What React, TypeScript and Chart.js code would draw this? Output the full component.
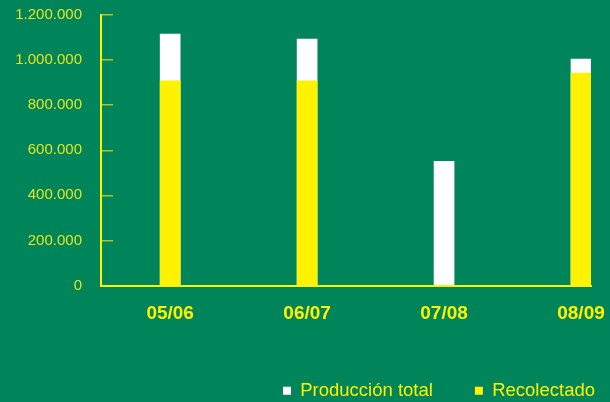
import React, { useEffect, useRef } from 'react';
import { Chart, registerables } from 'chart.js';

Chart.register(...registerables);

const categories = ['05/06', '06/07', '07/08', '08/09'];
const seriesNames = ['Producción total', 'Recolectado'];
const produccionTotal = [1115000, 1093000, 551000, 1004000];
const recolectado = [908000, 908000, 0, 942000];
const yTickValues = [0, 200000, 400000, 600000, 800000, 1000000, 1200000];

const GREEN = '#00845a';
const YELLOW = '#fff200';
const YLABEL = '#e6e41c';
const TICK = '#a9c62e';
const FONT = '"Liberation Sans", Arial, Helvetica, sans-serif';

const fmt = (v: number) => String(v).replace(/\B(?=(\d{3})+(?!\d))/g, '.');

export default function App() {
  const ref = useRef<HTMLCanvasElement>(null);

  useEffect(() => {
    document.documentElement.style.margin = '0';
    document.body.style.margin = '0';
    document.body.style.background = GREEN;
    document.body.style.overflow = 'hidden';

    const chart = new Chart(ref.current as HTMLCanvasElement, {
      type: 'bar',
      data: {
        datasets: [
          {
            label: seriesNames[0],
            data: produccionTotal.map((v, i) => ({ x: i, y: v })),
            backgroundColor: '#ffffff',
            borderWidth: 0,
            order: 2,
            grouped: false,
            barThickness: 20,
          } as any,
          {
            label: seriesNames[1],
            data: recolectado.map((v, i) => ({ x: i, y: v })),
            backgroundColor: YELLOW,
            borderWidth: 0,
            order: 1,
            grouped: false,
            barThickness: 20,
          } as any,
        ],
      },
      options: {
        responsive: false,
        animation: false,
        devicePixelRatio: 1,
        layout: { padding: { left: 13, right: -27, top: 15, bottom: -8 } },
        font: { family: FONT },
        plugins: {
          tooltip: { enabled: false },
          legend: {
            position: 'bottom',
            align: 'end',
            labels: {
              color: YELLOW,
              font: { family: FONT, size: 18.5 },
              boxWidth: 8,
              boxHeight: 8,
              padding: 42,
              sort: (a: any, b: any) => a.datasetIndex - b.datasetIndex,
            },
          },
        },
        scales: {
          x: {
            type: 'linear',
            offset: false,
            min: -0.505,
            max: 3.073,
            grid: { display: false, drawTicks: false },
            border: { display: true, color: YELLOW, width: 2 },
            afterBuildTicks: (axis: any) => {
              axis.ticks = categories.map((_, i) => ({ value: i }));
            },
            afterFit: (s: any) => {
              s.height = 54;
              s.paddingLeft = 0;
              s.paddingRight = 0;
            },
            ticks: {
              color: YELLOW,
              font: { family: FONT, size: 19, weight: 'bold' },
              padding: 17,
              maxRotation: 0,
              autoSkip: false,
              callback: (v: any) => categories[v] ?? '',
            },
          },
          y: {
            min: 0,
            max: 1200000,
            afterBuildTicks: (axis: any) => {
              axis.ticks = yTickValues.map((v) => ({ value: v }));
            },
            afterFit: (s: any) => {
              s.width = 88;
              s.paddingTop = 9;
              s.paddingBottom = 9;
            },
            grid: { drawOnChartArea: false, drawTicks: true, tickLength: -12, color: TICK, lineWidth: 1.5 },
            border: { display: true, color: YELLOW, width: 2 },
            ticks: {
              color: YLABEL,
              font: { family: FONT, size: 15 },
              padding: 31,
              callback: (v: any) => fmt(Number(v)),
            },
          },
          yRight: {
            position: 'right',
            grid: { display: false, drawTicks: false },
            border: { display: false },
            ticks: { display: false },
            afterFit: (s: any) => {
              s.width = 46;
              s.paddingTop = 0;
              s.paddingBottom = 0;
            },
          },
        },
      } as any,
    });
    return () => chart.destroy();
  }, []);

  return (
    <canvas
      ref={ref}
      width={610}
      height={402}
      style={{ display: 'block', width: 610, height: 402, background: GREEN }}
    />
  );
}
